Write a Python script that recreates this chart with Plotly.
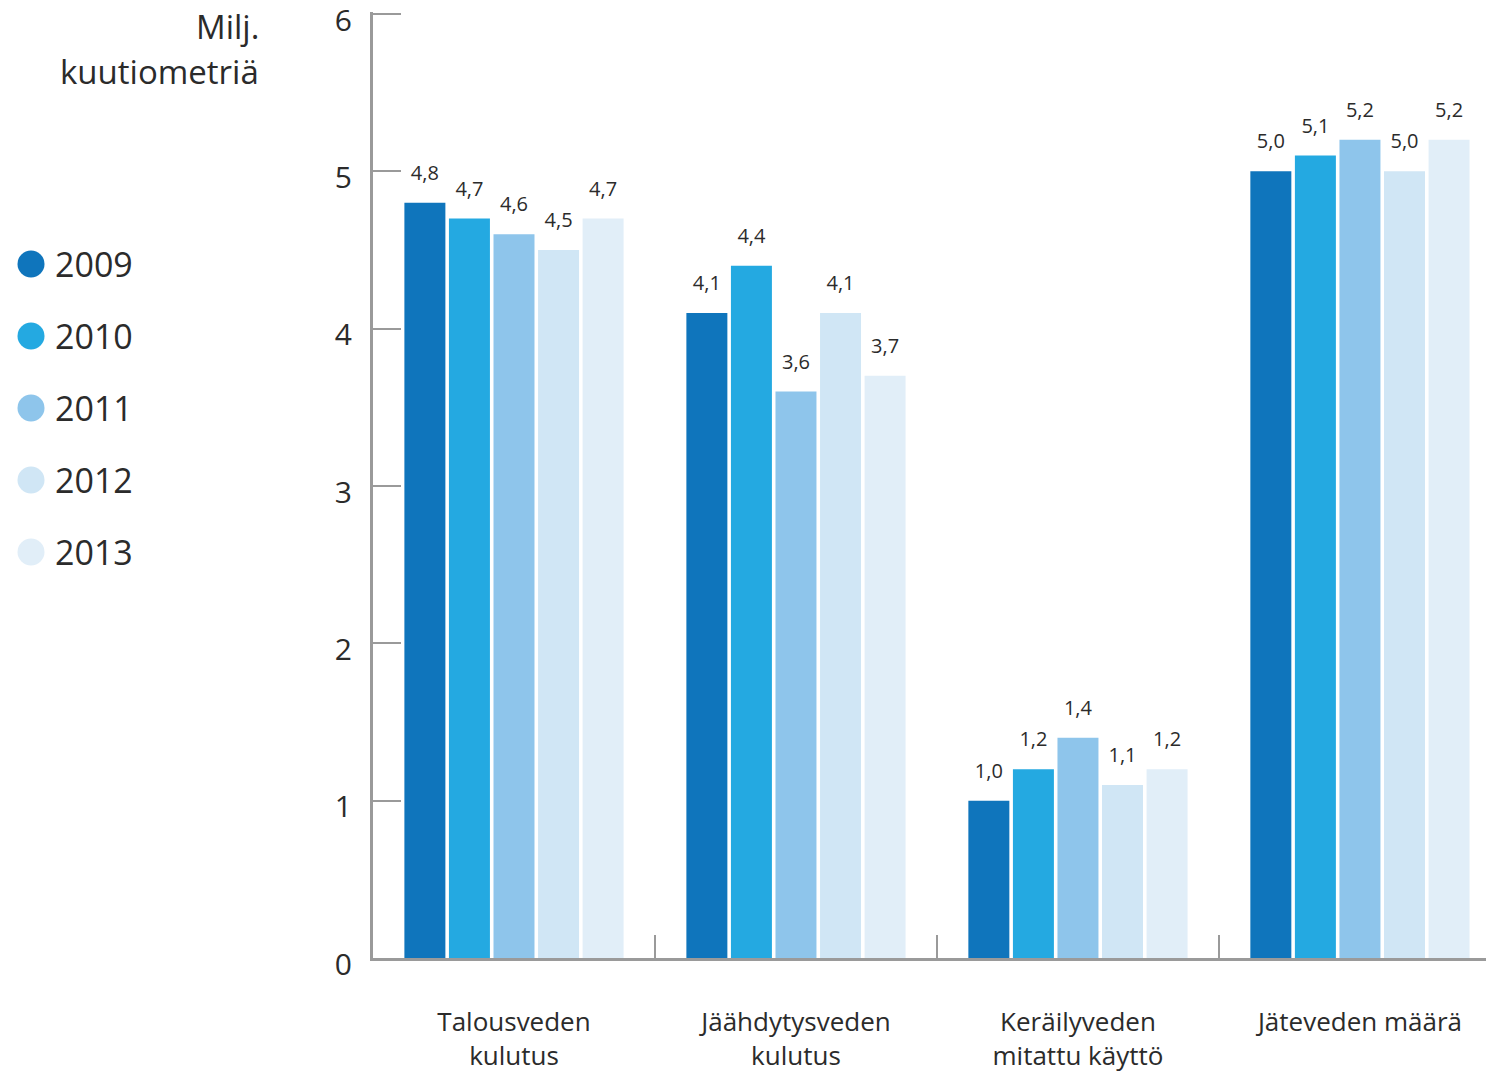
import plotly.graph_objects as go

categories = ["Talousveden<br>kulutus", "Jäähdytysveden<br>kulutus",
              "Keräilyveden<br>mitattu käyttö", "Jäteveden määrä"]
years = ["2009", "2010", "2011", "2012", "2013"]
values = {
    "2009": [4.8, 4.1, 1.0, 5.0],
    "2010": [4.7, 4.4, 1.2, 5.1],
    "2011": [4.6, 3.6, 1.4, 5.2],
    "2012": [4.5, 4.1, 1.1, 5.0],
    "2013": [4.7, 3.7, 1.2, 5.2],
}
colors = ["#0F75BC", "#24A9E1", "#8EC5EB", "#D0E6F5", "#E1EEF8"]
y_ticks = [0, 1, 2, 3, 4, 5, 6]
y_title = ["Milj.", "kuutiometriä"]

FONT = "Open Sans"
TXT = "#2b2b2b"
AX = "#9a9a9a"

W, H = 1486, 1076
L, R, T, B = 373, 0, 12, 118
pw, ph = W - L - R, H - T - B


def px_x(p):
    return (p - L) / pw


def px_y(p):
    return (H - B - p) / ph


fig = go.Figure()
for yr, col in zip(years, colors):
    fig.add_trace(go.Bar(x=categories, y=values[yr], name=yr,
                         marker=dict(color=col, line=dict(width=0)),
                         showlegend=False))
for yr in years:
    fig.add_trace(go.Scatter(
        x=categories, y=values[yr], mode="markers+text",
        text=[f"{v:.1f}".replace(".", ",") for v in values[yr]],
        textposition="top center",
        marker=dict(size=27, color="rgba(0,0,0,0)"),
        textfont=dict(family=FONT, size=20, color=TXT),
        showlegend=False, hoverinfo="skip"))

shapes = []
annotations = []
for i, (yr, col) in enumerate(zip(years, colors)):
    cy = px_y(264 + 72 * i)
    shapes.append(dict(type="circle", xref="paper", yref="paper",
                       xsizemode="pixel", ysizemode="pixel",
                       xanchor=px_x(31), yanchor=cy,
                       x0=-13.5, x1=13.5, y0=-13.5, y1=13.5,
                       fillcolor=col, line=dict(width=0)))
    annotations.append(dict(xref="paper", yref="paper", x=px_x(53), y=cy,
                            xanchor="left", yanchor="middle", text=yr,
                            showarrow=False,
                            font=dict(family=FONT, size=34, color=TXT)))
for j, t in enumerate(y_title):
    annotations.append(dict(xref="paper", yref="paper", x=px_x(261),
                            y=px_y(27 + 44 * j), xanchor="right",
                            yanchor="middle", text=t, showarrow=False,
                            font=dict(family=FONT, size=33, color=TXT)))

fig.update_layout(
    width=W, height=H,
    margin=dict(l=L, r=R, t=T, b=B, pad=0, autoexpand=False),
    paper_bgcolor="white", plot_bgcolor="white",
    barmode="group", bargap=0.21, bargroupgap=0.08,
    scattermode="group", scattergap=0.21,
    showlegend=False,
    shapes=shapes, annotations=annotations,
    font=dict(family=FONT, color=TXT),
)
fig.update_xaxes(type="category", range=[-0.5, 3.447], automargin=False,
                 showline=True, linecolor=AX, linewidth=3,
                 ticks="inside", tickson="boundaries", ticklen=23,
                 tickcolor=AX, tickwidth=2, showgrid=False,
                 tickfont=dict(family=FONT, size=26, color=TXT),
                 ticklabelstandoff=39)
fig.update_yaxes(range=[0, 6.0127], tickvals=y_ticks, automargin=False,
                 ticktext=[str(v) for v in y_ticks],
                 showline=True, linecolor=AX, linewidth=3,
                 ticks="inside", ticklen=28, tickcolor=AX, tickwidth=2,
                 showgrid=False, zeroline=False,
                 tickfont=dict(family=FONT, size=30, color=TXT),
                 ticklabelstandoff=12, ticklabelshift=6,
                 ticklabeloverflow="allow")

fig.write_html("out.html", config={"displayModeBar": False},
               post_script="document.body.style.margin='0';"
                           "document.body.style.overflow='hidden';")
